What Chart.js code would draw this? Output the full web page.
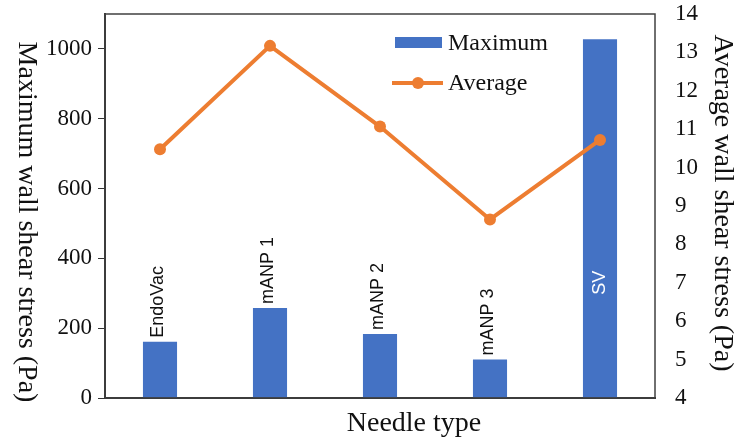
<!DOCTYPE html>
<html>
<head>
<meta charset="utf-8">
<script src="https://cdn.jsdelivr.net/npm/chart.js@4"></script>
<style>
  html, body { margin: 0; padding: 0; background: #fff; }
  #wrap { width: 737px; height: 442px; }
</style>
</head>
<body>
<div id="wrap"><canvas id="myChart" width="737" height="442"></canvas></div>
<script>
// data
const needles = ['EndoVac', 'mANP 1', 'mANP 2', 'mANP 3', 'SV'];
const maximumWss = [161, 258, 183, 110, 1028];   // Pa, left axis
const averageWss = [10.48, 13.17, 11.07, 8.65, 10.72]; // Pa, right axis

const leftTitle = 'Maximum wall shear stress (Pa)';
const rightTitle = 'Average wall shear stress (Pa)';
const xTitle = 'Needle type';

const BLUE = '#4472C4';
const ORANGE = '#ED7D31';
const SERIF = '"Liberation Serif", "Times New Roman", serif';
const SANS = '"Liberation Sans", Arial, sans-serif';

// rotated names above each bar (SV sits inside its bar)
const barNames = {
  id: 'barNames',
  afterDatasetsDraw(chart) {
    const ctx = chart.ctx;
    const meta = chart.getDatasetMeta(0);
    ctx.save();
    ctx.font = '18px ' + SANS;
    meta.data.forEach((bar, i) => {
      const name = needles[i];
      const inside = maximumWss[i] > 800;
      ctx.save();
      if (inside) {
        const y = bar.base - (bar.base - bar.y) * 0.32;
        ctx.translate(bar.x, y);
        ctx.rotate(-Math.PI / 2);
        ctx.fillStyle = '#fff';
        ctx.textAlign = 'center';
      } else {
        ctx.translate(bar.x - 2, bar.y - 4);
        ctx.rotate(-Math.PI / 2);
        ctx.fillStyle = '#111';
        ctx.textAlign = 'left';
      }
      ctx.textBaseline = 'middle';
      ctx.fillText(name, 0, 0);
      ctx.restore();
    });
    ctx.restore();
  }
};

// frame, axis titles and the legend box
const decorations = {
  id: 'decorations',
  afterDraw(chart) {
    const ctx = chart.ctx;
    const a = chart.chartArea;
    ctx.save();
    ctx.strokeStyle = '#404040';
    ctx.lineWidth = 1.5;
    ctx.strokeRect(a.left, a.top, a.right - a.left, a.bottom - a.top);

    ctx.fillStyle = '#111';
    ctx.font = '28px ' + SERIF;
    ctx.textAlign = 'center';
    ctx.textBaseline = 'middle';

    ctx.save();
    ctx.translate(26, 222);
    ctx.rotate(Math.PI / 2);
    ctx.fillText(leftTitle, 0, 0);
    ctx.restore();

    ctx.save();
    ctx.translate(722, 203);
    ctx.rotate(Math.PI / 2);
    ctx.fillText(rightTitle, 0, 0);
    ctx.restore();

    ctx.textBaseline = 'alphabetic';
    ctx.fillText(xTitle, 414, 431);

    // legend
    ctx.fillStyle = BLUE;
    ctx.fillRect(395, 37, 47, 11);
    ctx.strokeStyle = ORANGE;
    ctx.lineWidth = 4;
    ctx.beginPath();
    ctx.moveTo(392, 83);
    ctx.lineTo(443, 83);
    ctx.stroke();
    ctx.fillStyle = ORANGE;
    ctx.beginPath();
    ctx.arc(418, 83, 6, 0, Math.PI * 2);
    ctx.fill();

    ctx.fillStyle = '#111';
    ctx.font = '24px ' + SERIF;
    ctx.textAlign = 'left';
    ctx.textBaseline = 'middle';
    ctx.fillText(chart.data.datasets[0].label, 448, 44);
    ctx.fillText(chart.data.datasets[1].label, 448, 84);
    ctx.restore();
  }
};

const ctx = document.getElementById('myChart');
new Chart(ctx, {
  type: 'bar',
  data: {
    labels: needles,
    datasets: [
      {
        label: 'Maximum',
        data: maximumWss,
        backgroundColor: BLUE,
        borderWidth: 0,
        barPercentage: 0.31,
        categoryPercentage: 1,
        yAxisID: 'y',
        order: 1
      },
      {
        type: 'line',
        label: 'Average',
        data: averageWss,
        borderColor: ORANGE,
        backgroundColor: ORANGE,
        borderWidth: 4,
        pointRadius: 6,
        pointBackgroundColor: ORANGE,
        pointBorderWidth: 0,
        tension: 0,
        yAxisID: 'y1',
        order: 0
      }
    ]
  },
  options: {
    responsive: false,
    animation: false,
    layout: { padding: { top: 14, left: 0, right: 0, bottom: 0 } },
    plugins: {
      legend: { display: false },
      tooltip: { enabled: false }
    },
    scales: {
      x: {
        offset: true,
        grid: { display: false },
        border: { display: true, color: '#333', width: 2 },
        ticks: { display: false },
        afterFit(scale) { scale.height = 44; scale.paddingLeft = 0; scale.paddingRight = 0; }
      },
      y: {
        position: 'left',
        min: 0,
        max: 1100,
        afterBuildTicks(scale) {
          scale.ticks = scale.ticks.filter(t => t.value % 200 === 0);
        },
        ticks: {
          stepSize: 200,
          color: '#111',
          padding: 6,
          font: { family: SERIF, size: 23 },
          callback: v => String(v)
        },
        grid: { drawOnChartArea: false, drawTicks: true, tickLength: 7, color: '#333' },
        border: { display: true, color: '#333', width: 2 },
        afterFit(scale) { scale.width = 105; scale.paddingTop = 0; scale.paddingBottom = 0; }
      },
      y1: {
        position: 'right',
        min: 4,
        max: 14,
        ticks: {
          stepSize: 1,
          color: '#111',
          padding: 20,
          font: { family: SERIF, size: 23 }
        },
        grid: { drawOnChartArea: false, drawTicks: false },
        border: { display: false },
        afterFit(scale) { scale.width = 82; scale.paddingTop = 0; scale.paddingBottom = 0; }
      }
    }
  },
  plugins: [barNames, decorations]
});
</script>
</body>
</html>
